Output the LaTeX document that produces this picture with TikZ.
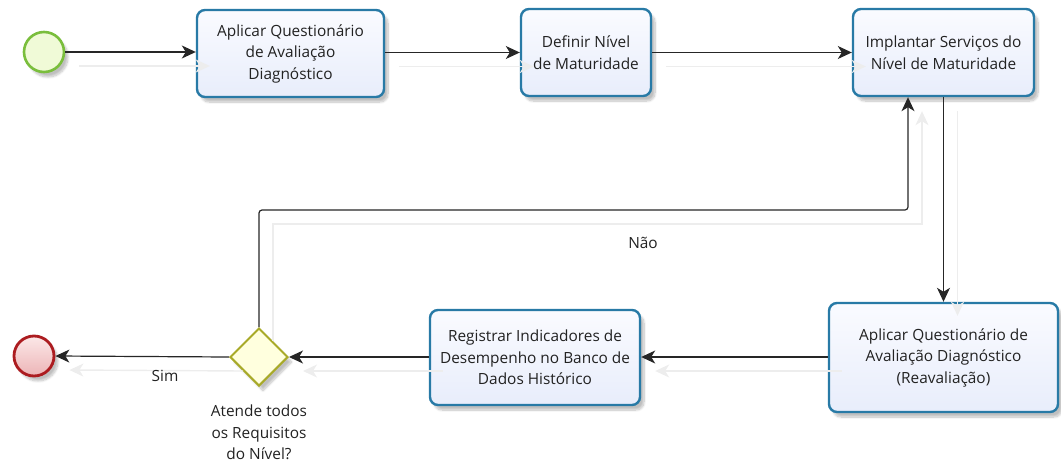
\documentclass[tikz,border=0pt]{standalone}
\usepackage{fontspec}
\setmainfont{Open Sans}
\usetikzlibrary{arrows.meta,shapes.geometric,shadows.blur,calc}
\definecolor{taskline}{RGB}{40,122,166}
\definecolor{taskfillA}{RGB}{250,251,255}
\definecolor{taskfillB}{RGB}{232,237,251}
\definecolor{startline}{RGB}{122,190,60}
\definecolor{startfill}{RGB}{240,250,215}
\definecolor{endline}{RGB}{172,28,32}
\definecolor{endfillA}{RGB}{252,232,232}
\definecolor{endfillB}{RGB}{236,180,182}
\definecolor{gateline}{RGB}{168,170,40}
\definecolor{gatefill}{RGB}{255,255,222}
\definecolor{txt}{RGB}{34,34,34}
\tikzset{
  soft/.style={blur shadow={shadow xshift=4pt, shadow yshift=-5pt, shadow blur steps=10, shadow opacity=25}},
  task/.style={draw=taskline, line width=2.4pt, rounded corners=8pt, top color=taskfillA, bottom color=taskfillB,
    align=center, text=txt, inner sep=2pt, soft,
    font=\fontsize{15.4}{21.5}\selectfont},
  startev/.style={circle, draw=startline, line width=2.6pt, fill=startfill, minimum size=40pt, inner sep=0pt, soft},
  endev/.style={circle, draw=endline, line width=2.8pt, top color=endfillA, bottom color=endfillB, minimum size=40pt, inner sep=0pt, soft},
  gate/.style={diamond, draw=gateline, line width=2pt, fill=gatefill, minimum width=58pt, minimum height=58pt, inner sep=0pt, soft},
  flow/.style={draw=black!85, line width=1.2pt, -{Stealth[length=14pt,width=13pt,inset=4pt]}},
  ghost/.style={draw=black!7, line width=1.4pt, -{Stealth[length=14pt,width=13pt,inset=4pt]},
    transform canvas={shift={(14pt,-14pt)}}},
  lbl/.style={text=txt, font=\fontsize{15.4}{21.5}\selectfont, align=center, inner sep=0pt}
}
\begin{document}
\begin{tikzpicture}[x=1pt,y=-1pt]
\useasboundingbox (0,0) rectangle (1061,466);

% process steps
\node[task, minimum width=187pt, minimum height=87pt] (t1) at (290.5,53.5) {Aplicar Questionário\\de Avaliação\\Diagnóstico};
\node[task, minimum width=130pt, minimum height=87pt] (t2) at (586,52.5) {Definir Nível\\de Maturidade};
\node[task, minimum width=181pt, minimum height=87pt] (t3) at (943.5,52.5) {Implantar Serviços do\\Nível de Maturidade};
\node[task, minimum width=229pt, minimum height=109pt] (t4) at (943.5,357.5) {Aplicar Questionário de\\Avaliação Diagnóstico\\(Reavaliação)};
\node[task, minimum width=210pt, minimum height=95pt] (t5) at (535,357.5) {Registrar Indicadores de\\Desempenho no Banco de\\Dados Histórico};

% events and decision
\node[startev] (s) at (44,52) {};
\node[endev] (e) at (34,356) {};
\node[gate] (g) at (259,357) {};
\node[lbl, anchor=north] (gl) at (259,405) {Atende todos\\os Requisitos\\do Nível?};

% faint connector shadows
\draw[ghost] (s) -- (s -| t1.west);
\draw[ghost] (t1.east |- t2) -- (t2);
\draw[ghost] (t2) -- (t3);
\draw[ghost] (t3.south) -- (t4.north);
\draw[ghost] (g.north) -- (g.north |- 0,210) -| ([xshift=-35.5pt]t3.south);
\draw[ghost] (t4.west |- g) -- (t5.east |- g);
\draw[ghost] (t5.west |- g) -- (g.east);
\draw[ghost] (g.west) -- (e.east);

% sequence flows
\draw[flow] (s) -- (s -| t1.west);
\draw[flow] (t1.east |- t2) -- (t2);
\draw[flow] (t2) -- (t3);
\draw[flow] (t3.south) -- (t4.north);
\draw[flow, rounded corners=3pt] (g.north) -- (g.north |- 0,210) -| ([xshift=-35.5pt]t3.south);
\draw[flow] (t4.west |- g) -- (t5.east |- g);
\draw[flow] (t5.west |- g) -- (g.east);
\draw[flow] (g.west) -- (e.east);

% flow labels
\node[lbl] (nao) at (643,243) {Não};
\node[lbl] (sim) at (165,376) {Sim};
\end{tikzpicture}
\end{document}
